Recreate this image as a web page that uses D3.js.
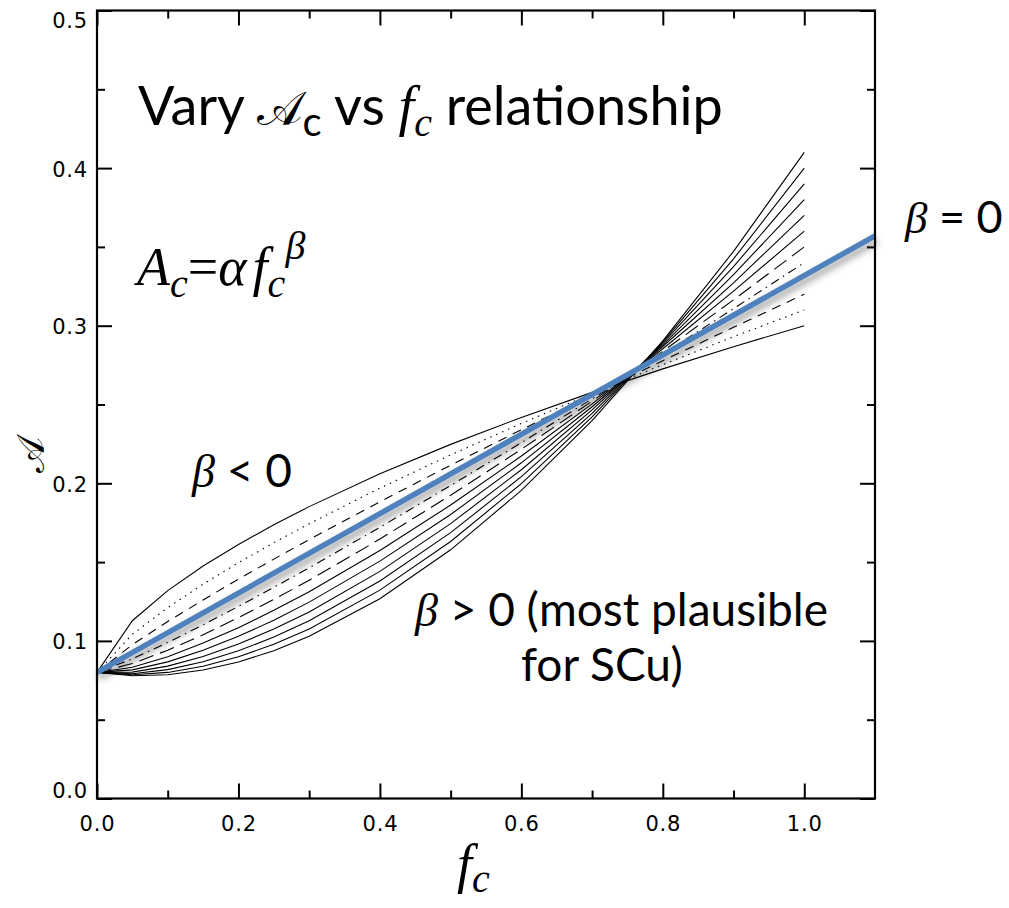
<!DOCTYPE html>
<html><head><meta charset="utf-8">
<script src="https://cdn.jsdelivr.net/npm/d3@7"></script>
<style>body{margin:0;background:#fff}</style>
</head><body><svg id="c" width="1009" height="908"></svg>
<script>
// ---- data ----
const fc = [0, 0.05, 0.1, 0.15, 0.2, 0.25, 0.3, 0.4, 0.5, 0.6, 0.7, 0.8, 0.9, 1.0];
const betaLabels = ["-0.3", "-0.2", "-0.1", "0.1", "0.2", "0.3", "0.4", "0.5", "0.6", "0.7", "0.8"];
const A_bm03 = [0.080, 0.1128, 0.1319, 0.1475, 0.1612, 0.1737, 0.1852, 0.2060, 0.2247, 0.2418, 0.2577, 0.2726, 0.2867, 0.300];
const A_bm02 = [0.080, 0.1042, 0.1211, 0.1360, 0.1496, 0.1623, 0.1743, 0.1970, 0.2180, 0.2380, 0.2570, 0.2753, 0.2930, 0.310];
const A_bm01 = [0.080, 0.0976, 0.1123, 0.1260, 0.1392, 0.1519, 0.1643, 0.1883, 0.2115, 0.2340, 0.2561, 0.2778, 0.2990, 0.320];
const A_bp01 = [0.080, 0.0886, 0.0990, 0.1102, 0.1219, 0.1340, 0.1464, 0.1721, 0.1986, 0.2258, 0.2536, 0.2820, 0.3108, 0.340];
const A_bp02 = [0.080, 0.0856, 0.0941, 0.1039, 0.1148, 0.1263, 0.1385, 0.1646, 0.1924, 0.2216, 0.2521, 0.2838, 0.3164, 0.350];
const A_bp03 = [0.080, 0.0833, 0.0900, 0.0986, 0.1084, 0.1194, 0.1312, 0.1574, 0.1862, 0.2173, 0.2504, 0.2854, 0.3219, 0.360];
const A_bp04 = [0.080, 0.0816, 0.0867, 0.0940, 0.1029, 0.1131, 0.1246, 0.1506, 0.1802, 0.2130, 0.2486, 0.2868, 0.3272, 0.370];
const A_bp05 = [0.080, 0.0802, 0.0840, 0.0901, 0.0980, 0.1075, 0.1184, 0.1441, 0.1744, 0.2086, 0.2466, 0.2879, 0.3324, 0.380];
const A_bp06 = [0.080, 0.0792, 0.0818, 0.0868, 0.0937, 0.1024, 0.1128, 0.1380, 0.1687, 0.2042, 0.2444, 0.2889, 0.3375, 0.390];
const A_bp07 = [0.080, 0.0785, 0.0800, 0.0839, 0.0899, 0.0979, 0.1076, 0.1322, 0.1631, 0.1998, 0.2421, 0.2898, 0.3424, 0.400];
const A_bp08 = [0.080, 0.0779, 0.0785, 0.0815, 0.0866, 0.0938, 0.1029, 0.1268, 0.1578, 0.1955, 0.2397, 0.2904, 0.3472, 0.410];
const blueFc = [0, 1.1];
const blueA = [0.080, 0.357];
const xMajor = [0, 0.2, 0.4, 0.6, 0.8, 1.0];
const xMinor = [0.1, 0.3, 0.5, 0.7, 0.9];
const yMajor = [0, 0.1, 0.2, 0.3, 0.4, 0.5];
const yMinor = [0.05, 0.15, 0.25, 0.35, 0.45];

const seriesList = [A_bm03, A_bm02, A_bm01, A_bp01, A_bp02, A_bp03, A_bp04, A_bp05, A_bp06, A_bp07, A_bp08];
// line styles per series (dash arrays)
const dashStyles = [null, "1.5,5", "9,7", "9,5,1.5,5", "15,7", null, null, null, null, null, null];

// ---- layout ----
const svg = d3.select("#c");
const L = 97, R = 875, T = 10.5, B = 798.5;
const x = d3.scaleLinear().domain([0, 1.1]).range([L, R]);
const y = d3.scaleLinear().domain([0, 0.5]).range([B, T]);

const defs = svg.append("defs");
const f = defs.append("filter").attr("id", "shadow").attr("x", "-10%").attr("y", "-50%").attr("width", "120%").attr("height", "200%");
f.append("feDropShadow").attr("dx", 1.5).attr("dy", 5).attr("stdDeviation", 3.5).attr("flood-color", "#000").attr("flood-opacity", 0.4);

// curves
const line = d3.line().x((d, i) => x(fc[i])).y(d => y(d));
const gC = svg.append("g");
seriesList.forEach((s, k) => {
  gC.append("path").datum(s).attr("d", line)
    .attr("fill", "none").attr("stroke", "#000").attr("stroke-width", 1.1)
    .attr("stroke-dasharray", dashStyles[k]);
});

// blue beta = 0 line
const bl = d3.line().x((d, i) => x(blueFc[i])).y(d => y(d));
svg.append("path").datum(blueA).attr("d", bl).attr("fill", "none")
  .attr("stroke", "#4f81bd").attr("stroke-width", 5.5).attr("filter", "url(#shadow)");

// axes
const tickFont = "'DejaVu Sans', sans-serif";
function styleAxis(g) {
  g.select(".domain").remove();
  g.selectAll(".tick line").attr("stroke", "#000").attr("stroke-width", 2);
  g.selectAll("text").attr("fill", "#000").style("font-family", tickFont).style("font-size", "21px").style("letter-spacing", "0.8px");
}
const fmt = d3.format(".1f");
svg.append("g").attr("transform", `translate(0,${B})`)
  .call(d3.axisBottom(x).tickValues(xMajor).tickSize(-15).tickPadding(18).tickFormat(fmt)).call(styleAxis);
svg.append("g").attr("transform", `translate(0,${B})`)
  .call(d3.axisBottom(x).tickValues(xMinor).tickSize(-8).tickFormat("")).call(styleAxis);
svg.append("g").attr("transform", `translate(0,${T})`)
  .call(d3.axisTop(x).tickValues(xMajor).tickSize(-15).tickFormat("")).call(styleAxis);
svg.append("g").attr("transform", `translate(0,${T})`)
  .call(d3.axisTop(x).tickValues(xMinor).tickSize(-8).tickFormat("")).call(styleAxis);
const gyl = svg.append("g").attr("transform", `translate(${L},0)`)
  .call(d3.axisLeft(y).tickValues(yMajor).tickSize(-15).tickPadding(9).tickFormat(fmt)).call(styleAxis);
gyl.selectAll(".tick text").attr("dy", d => d === 0.5 ? "0.82em" : d === 0 ? "-0.05em" : "0.38em");
svg.append("g").attr("transform", `translate(${L},0)`)
  .call(d3.axisLeft(y).tickValues(yMinor).tickSize(-8).tickFormat("")).call(styleAxis);
svg.append("g").attr("transform", `translate(${R},0)`)
  .call(d3.axisRight(y).tickValues(yMajor).tickSize(-15).tickFormat("")).call(styleAxis);
svg.append("g").attr("transform", `translate(${R},0)`)
  .call(d3.axisRight(y).tickValues(yMinor).tickSize(-8).tickFormat("")).call(styleAxis);

// frame
svg.append("rect").attr("x", L).attr("y", T).attr("width", R - L).attr("height", B - T)
  .attr("fill", "none").attr("stroke", "#000").attr("stroke-width", 2.2);

// ---- texts ----
const sans = "Lato, 'Open Sans', sans-serif";
const serif = "'Liberation Serif', 'DejaVu Serif', serif";
const script = "'DejaVu Serif', 'DejaVu Sans', serif";

// title
const t = svg.append("text").attr("x", 138).attr("y", 125).style("font-family", sans).style("font-size", "54px").attr("fill", "#000");
t.append("tspan").text("Vary ");
t.append("tspan").style("font-family", script).style("font-size", "48px").text("𝒜");
t.append("tspan").attr("dy", 11).style("font-size", "40px").text("c");
t.append("tspan").attr("dy", -11).text(" vs ");
t.append("tspan").style("font-family", serif).style("font-style", "italic").style("font-size", "56px").text("f");
t.append("tspan").attr("dy", 11).style("font-family", serif).style("font-style", "italic").style("font-size", "40px").text("c");
t.append("tspan").attr("dy", -11).text(" relationship");

// formula
const fm = svg.append("text").attr("x", 137).attr("y", 285).style("font-family", serif).style("font-style", "italic").style("font-size", "54px").attr("fill", "#000");
fm.append("tspan").text("A");
fm.append("tspan").attr("dy", 12).style("font-size", "40px").text("c");
fm.append("tspan").attr("dy", -12).style("font-style", "normal").text("=");
fm.append("tspan").text("α");
fm.append("tspan").attr("dx", 6).text("f");
fm.append("tspan").attr("dy", 12).style("font-size", "40px").text("c");
fm.append("tspan").attr("dy", -38).style("font-size", "40px").text("β");

// annotations
function betaText(xp, yp, rest, size) {
  const tt = svg.append("text").attr("x", xp).attr("y", yp).style("font-family", sans).style("font-size", size + "px").attr("fill", "#000");
  tt.append("tspan").style("font-family", serif).style("font-style", "italic").text("β");
  tt.append("tspan").text(rest);
  return tt;
}
betaText(905, 233, " = 0", 45);
betaText(192, 487, " < 0", 46);
betaText(415, 626, " > 0 (most plausible", 46);
svg.append("text").attr("x", 521).attr("y", 681).style("font-family", sans).style("font-size", "46px").attr("fill", "#000").text("for SCu)");

// axis titles
svg.append("text").attr("transform", "translate(44,455) rotate(-90)").attr("text-anchor", "middle")
  .style("font-family", script).style("font-size", "38px").attr("fill", "#000").text("𝒜");
const xl = svg.append("text").attr("x", 457).attr("y", 882).style("font-family", serif).style("font-style", "italic").style("font-size", "54px").attr("fill", "#000");
xl.append("tspan").text("f");
xl.append("tspan").attr("dy", 10).style("font-size", "40px").text("c");
</script></body></html>
